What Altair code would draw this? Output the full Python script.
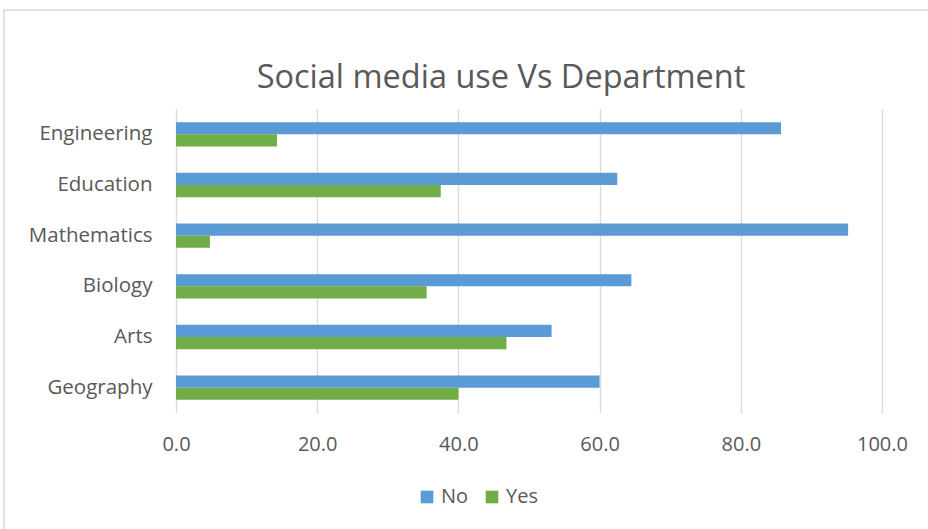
import altair as alt
import pandas as pd

departments = ["Engineering", "Education", "Mathematics", "Biology", "Arts", "Geography"]
no_values = [85.7, 62.5, 95.2, 64.5, 53.2, 60.0]
yes_values = [14.3, 37.5, 4.8, 35.5, 46.8, 40.0]
series = ["No", "Yes"]
colors = ["#5B9BD5", "#70AD47"]

rows = []
for d, n, y in zip(departments, no_values, yes_values):
    rows.append({"Department": d, "Response": "No", "Value": n})
    rows.append({"Department": d, "Response": "Yes", "Value": y})
df = pd.DataFrame(rows)

FONT = "Open Sans"
GREY = "#595959"

bars = alt.Chart(df).mark_bar().encode(
    y=alt.Y("Department:N", sort=departments,
            scale=alt.Scale(paddingInner=0.52, paddingOuter=0.26),
            axis=alt.Axis(title=None, domain=False, ticks=False, labelPadding=24,
                          labelFontSize=20.5, labelColor=GREY, labelFont=FONT, grid=False)),
    x=alt.X("Value:Q", scale=alt.Scale(domain=[0, 100], nice=False),
            axis=alt.Axis(title=None, values=[0, 20, 40, 60, 80, 100], format=".1f",
                          domain=False, ticks=False, labelPadding=21, labelFontSize=20,
                          labelFlush=False,
                          labelColor=GREY, labelFont=FONT, gridColor="#d9d9d9", gridWidth=1.3)),
    yOffset=alt.YOffset("Response:N", sort=series),
    color=alt.Color("Response:N", sort=series,
                    scale=alt.Scale(domain=series, range=colors),
                    legend=alt.Legend(title=None, orient="none", legendX=241, legendY=378,
                                      direction="horizontal", symbolType="square",
                                      symbolSize=160, symbolStrokeWidth=0,
                                      labelFontSize=20, labelColor=GREY, labelFont=FONT,
                                      columnPadding=13, labelOffset=4)),
)

border = alt.Chart(pd.DataFrame({"a": [0]})).mark_rect(
    fill=None, stroke="#d9d9d9", strokeWidth=1.5
).encode(x=alt.value(-172), x2=alt.value(800), y=alt.value(-99), y2=alt.value(450))

chart = alt.layer(border, bars).properties(
    width=706, height=304, background="white",
    title=alt.TitleParams("Social media use Vs Department", fontSize=32.5, font=FONT,
                          fontWeight="normal", color=GREY, anchor="middle", dx=-28,
                          offset=20, dy=105, frame="group"),
    autosize=alt.AutoSizeParams(type="none"),
    padding={"left": 176, "top": 109, "right": 46, "bottom": 116},
).configure_view(stroke="transparent")

chart.save("out.html", embed_options={"renderer": "svg", "actions": False})
